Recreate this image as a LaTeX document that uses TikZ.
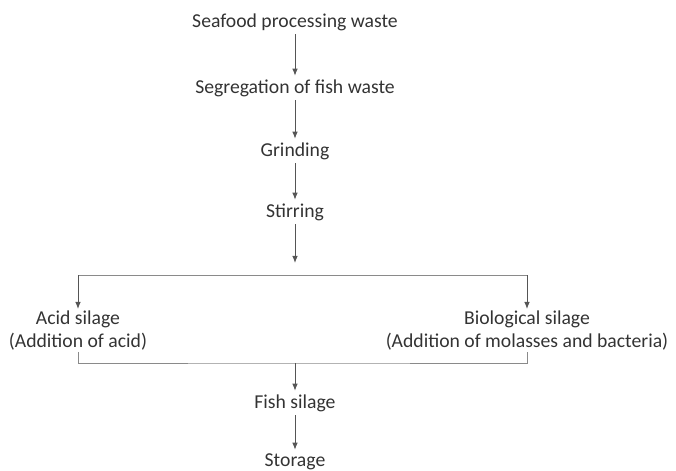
\documentclass[tikz,border=0pt]{standalone}
\usepackage{fontspec}
\setmainfont{Carlito}
\usetikzlibrary{arrows.meta}

\definecolor{txtgray}{HTML}{333333}
\definecolor{linegray}{HTML}{555555}
\definecolor{ruleGray}{HTML}{8A8A8A}

\tikzset{
  stage/.style={text=txtgray, font=\fontsize{14}{16.4}\selectfont, inner sep=0pt, minimum height=0.6cm},
  branch/.style={text=txtgray, font=\fontsize{14}{16.4}\selectfont, align=center, inner sep=1pt},
  flow/.style={draw=linegray, line width=0.7pt, -{Latex[length=5pt,width=4pt]}},
  rule/.style={draw=ruleGray, line width=0.7pt}
}

\begin{document}
\begin{tikzpicture}
  \useasboundingbox (0,0) rectangle (16.9,-11.75);

  \node[stage] (waste) at (7.375,-0.55) {Seafood processing waste};
  \node[stage] (segr) at (7.375,-2.2) {Segregation of fish waste};
  \node[stage] (grind) at (7.375,-3.775) {Grinding};
  \node[stage] (stir) at (7.375,-5.3) {Stirring};
  \coordinate (fork) at (7.375,-6.875);

  \node[branch] (acid) at (1.95,-8.26) {Acid silage\\(Addition of acid)};
  \node[branch] (bio) at (13.175,-8.26) {Biological silage\\(Addition of molasses and bacteria)};

  \coordinate (join) at (7.375,-9.075);
  \node[stage] (fish) at (7.375,-10.075) {Fish silage};
  \node[stage] (store) at (7.375,-11.55) {Storage};

  \draw[flow] (waste) -- (segr);
  \draw[flow] (segr) -- (grind);
  \draw[flow] (grind) -- (stir);
  \draw[flow] (stir) -- ([yshift=0.3cm]fork);

  % split into the two silage types
  \draw[rule] (acid.north |- fork) -- (bio.north |- fork);
  \draw[flow] (acid.north |- fork) -- (acid.north);
  \draw[flow] (bio.north |- fork) -- (bio.north);

  % both end up as fish silage
  \draw[rule] (acid.south) |- (join) -| (bio.south);
  \draw[flow] (join) -- (fish);
  \draw[flow] (fish) -- (store);
\end{tikzpicture}
\end{document}
